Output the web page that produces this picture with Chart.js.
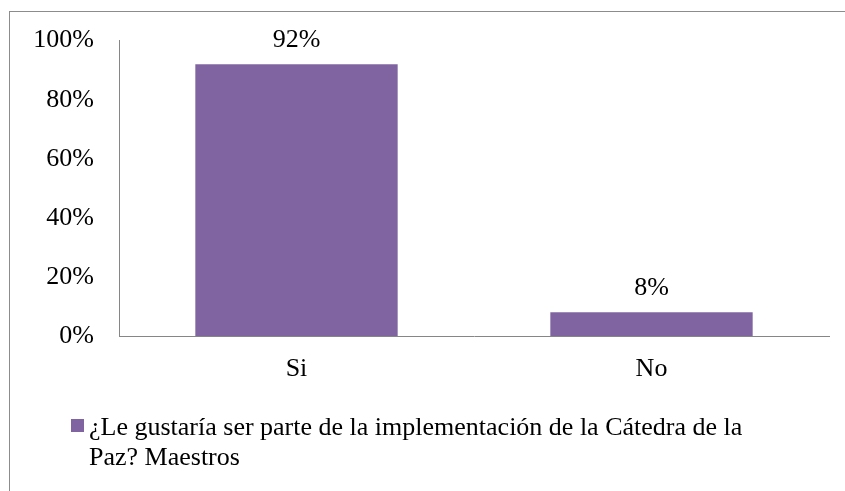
<!DOCTYPE html>
<html lang="es">

<head>
    <meta charset="UTF-8">
    <title>Cátedra de la Paz - Maestros</title>
    <script src="https://cdn.jsdelivr.net/npm/chart.js"></script>
    <style>
        body {
            margin: 0;
            background: #fff;
            overflow: hidden;
        }

        .frame {
            position: absolute;
            left: 9px;
            top: 11px;
            width: 845px;
            height: 491px;
            border-left: 1px solid #8c8c8c;
            border-top: 1px solid #8c8c8c;
        }

        #chart {
            position: absolute;
            left: 0;
            top: 0;
        }
    </style>
</head>

<body>
    <div class="frame"></div>
    <canvas id="chart" width="845" height="491"></canvas>

    <script>
        const categories = ['Si', 'No'];
        const values = [0.92, 0.08];
        const seriesName = '¿Le gustaría ser parte de la implementación de la Cátedra de la Paz? Maestros';
        const legendLines = ['¿Le gustaría ser parte de la implementación de la Cátedra de la', 'Paz? Maestros'];
        const tickValues = [0, 0.2, 0.4, 0.6, 0.8, 1];

        const FONT = 'Liberation Serif';
        const FONT_SIZE = 26;
        const barColor = '#8064A2';
        const axisColor = '#868686';

        // etiquetas de valor encima de cada barra
        const valueLabels = {
            id: 'valueLabels',
            afterDatasetsDraw(chart) {
                const ctx = chart.ctx;
                const meta = chart.getDatasetMeta(0);
                ctx.save();
                ctx.font = FONT_SIZE + 'px "' + FONT + '"';
                ctx.fillStyle = '#000';
                ctx.textAlign = 'center';
                ctx.textBaseline = 'alphabetic';
                meta.data.forEach(function (bar, i) {
                    const v = chart.data.datasets[0].data[i];
                    ctx.fillText(Math.round(v * 100) + '%', bar.x, bar.y - 17);
                });
                ctx.restore();
            }
        };

        // leyenda en dos líneas abajo a la izquierda
        const wrapLegend = {
            id: 'wrapLegend',
            afterDraw(chart) {
                const ctx = chart.ctx;
                ctx.save();
                ctx.fillStyle = barColor;
                ctx.fillRect(71, 419, 13, 13);
                ctx.font = FONT_SIZE + 'px "' + FONT + '"';
                ctx.fillStyle = '#000';
                ctx.textAlign = 'left';
                ctx.textBaseline = 'middle';
                legendLines.forEach(function (line, i) {
                    ctx.fillText(line, 89, 428 + i * 30);
                });
                ctx.restore();
            }
        };

        new Chart(document.getElementById('chart'), {
            type: 'bar',
            data: {
                labels: categories,
                datasets: [{
                    label: seriesName,
                    data: values,
                    backgroundColor: barColor,
                    borderWidth: 0,
                    categoryPercentage: 1,
                    barPercentage: 0.57
                }]
            },
            options: {
                responsive: false,
                animation: false,
                devicePixelRatio: 1,
                layout: {
                    padding: { top: 40, right: 16, left: 0, bottom: 0 }
                },
                plugins: {
                    legend: { display: false },
                    tooltip: { enabled: false }
                },
                scales: {
                    x: {
                        grid: { display: false, drawTicks: false },
                        border: { display: true, color: axisColor, width: 1 },
                        ticks: {
                            color: '#000',
                            font: { family: FONT, size: FONT_SIZE },
                            padding: 18
                        },
                        afterFit: function (s) { s.height = 155; }
                    },
                    y: {
                        min: 0,
                        max: 1,
                        grid: { display: false, drawTicks: false },
                        border: { display: true, color: axisColor, width: 1 },
                        afterBuildTicks: function (s) {
                            s.ticks = tickValues.map(function (v) { return { value: v }; });
                        },
                        ticks: {
                            color: '#000',
                            font: { family: FONT, size: FONT_SIZE },
                            padding: 25,
                            callback: function (v) { return Math.round(v * 100) + '%'; }
                        },
                        afterFit: function (s) { s.width = 119; }
                    }
                }
            },
            plugins: [valueLabels, wrapLegend]
        });
    </script>
</body>

</html>
